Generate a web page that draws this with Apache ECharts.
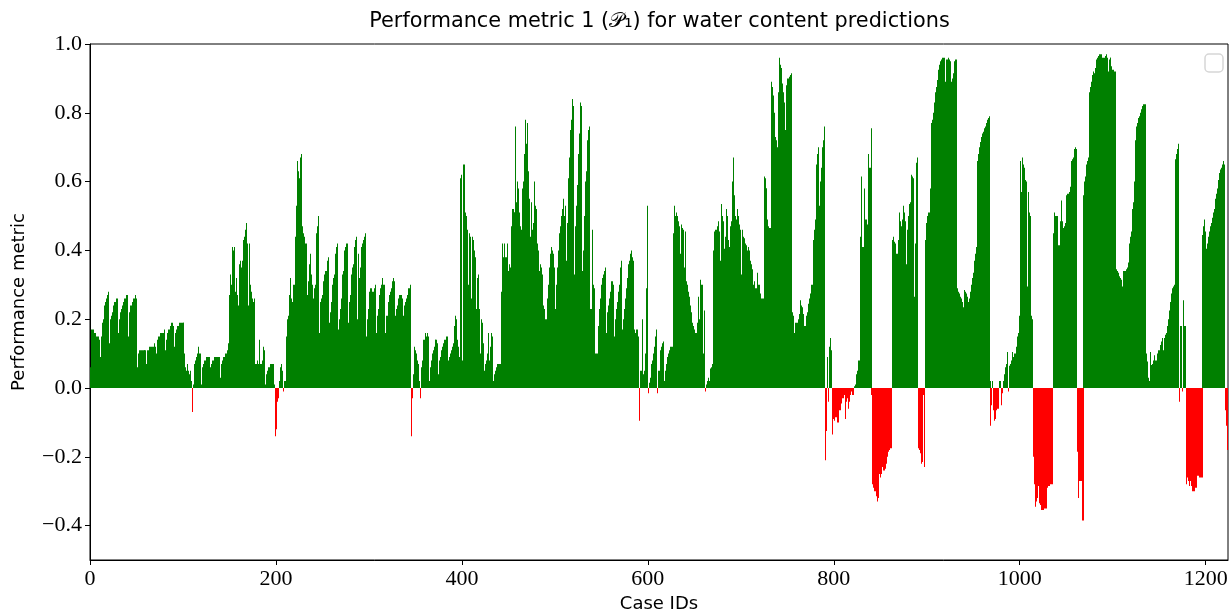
<!DOCTYPE html>
<html>
<head>
<meta charset="utf-8">
<title>Performance metric 1</title>
<script src="https://cdn.jsdelivr.net/npm/echarts@6/dist/echarts.min.js"></script>
<style>
  html, body { margin: 0; padding: 0; background: #ffffff; }
  #chart { width: 1231px; height: 613px; }
</style>
</head>
<body>
<div id="chart"></div>
<script>
// Performance metric per case, stored in blocks of consecutive case IDs.
const blockStarts = [0, 102, 204, 306, 408, 510, 612, 714, 816, 918, 1020, 1122];

const cases0 = [0.06,0.12,0.17,0.17,0.17,0.16,0.16,0.15,0.15,0.15,0.14,0.09,0.15,
  0.19,0.2,0.22,0.24,0.25,0.26,0.27,0.28,0.13,
  0.2,0.21,0.22,0.24,0.25,0.25,0.26,0.26,0.25,0.16,
  0.2,0.22,0.23,0.24,0.25,0.26,0.26,0.27,0.27,0.15,
  0.22,0.23,0.24,0.24,0.25,0.26,0.26,0.27,0.26,0.06,
  0.1,0.11,0.11,0.11,0.11,0.11,0.11,0.11,0.11,0.07,
  0.11,0.11,0.12,0.12,0.12,0.12,0.12,0.13,0.12,0.1,
  0.13,0.14,0.15,0.15,0.16,0.16,0.16,0.16,0.17,0.11,
  0.14,0.16,0.17,0.17,0.17,0.18,0.19,0.19,0.18,0.12,
  0.16,0.17,0.18,0.18,0.19,0.19,0.19,0.19,0.19,0.19];

const cases102 = [0.1,0.06,0.05,0.07,0.05,0.04,0.05,0.02,-0.07,0.01,
  0.07,0.08,0.09,0.09,0.1,0.12,0.1,0.1,0.01,
  0.06,0.07,0.08,0.08,0.09,0.09,0.09,0.09,0.02,
  0.06,0.07,0.08,0.08,0.09,0.09,0.09,0.09,0.09,0.09,0.03,
  0.07,0.08,0.08,0.09,0.09,0.1,0.1,0.11,0.13,
  0.27,0.33,0.3,0.41,0.4,0.41,0.28,0.27,0.32,0.27,
  0.24,0.36,0.37,0.35,0.37,0.43,0.44,0.46,0.48,0.42,
  0.24,0.42,0.33,0.3,0.28,0.26,0.25,0.26,0.07,0.07,
  0.08,0.07,0.14,0.07,0.07,0.08,0.08,0.12,0.11,0.01,
  0.04,0.05,0.06,0.06,0.07,0.07,0.07,0.07,0.01,-0.14,
  -0.12,-0.08,-0.04,-0.03];

const cases204 = [0.02,0.06,0.07,0.05,-0.01,0.02,0.02,0.15,0.2,0.21,
  0.26,0.27,0.32,0.26,0.25,0.3,0.3,0.44,0.53,0.66,
  0.63,0.61,0.67,0.68,0.47,0.46,0.45,0.44,0.42,0.42,
  0.27,0.31,0.36,0.39,0.33,0.3,0.26,0.29,0.3,0.31,
  0.45,0.47,0.5,0.16,0.25,0.26,0.27,0.31,0.33,0.34,
  0.34,0.37,0.38,0.15,0.19,0.22,0.25,0.3,0.32,0.33,
  0.39,0.41,0.42,0.17,0.2,0.23,0.26,0.31,0.33,0.34,
  0.4,0.41,0.42,0.42,0.19,0.25,0.27,0.33,0.35,0.36,
  0.41,0.42,0.43,0.44,0.2,0.39,0.32,0.35,0.41,0.42,
  0.43,0.44,0.45,0.15,0.2,0.23,0.23,0.28,0.29,0.29,
  0.28,0.28];

const cases306 = [0.29,0.3,0.16,0.21,0.23,0.27,0.29,0.3,0.31,0.32,
  0.3,0.3,0.16,0.21,0.21,0.25,0.27,0.28,0.29,0.31,
  0.32,0.31,0.17,0.21,0.23,0.24,0.26,0.27,0.27,0.27,
  0.26,0.21,0.24,0.25,0.26,0.27,0.28,0.29,0.29,0.3,
  -0.14,-0.03,0.04,0.12,0.11,0.1,0.08,0.07,0.02,-0.03,
  0.02,0.06,0.08,0.14,0.14,0.16,0.15,0.16,0.15,0.02,
  0.06,0.08,0.1,0.11,0.12,0.14,0.14,0.14,0.13,0.04,
  0.08,0.09,0.11,0.12,0.13,0.14,0.14,0.15,0.15,0.05,
  0.08,0.09,0.1,0.11,0.12,0.13,0.18,0.21,0.2,0.14,
  0.12,0.09,0.61,0.5,0.62,0.08,0.65,0.65,0.51,0.5,
  0.46,0.3];

const cases408 = [0.45,0.44,0.26,0.44,0.43,0.19,0.4,0.38,0.23,0.32,
  0.33,0.23,0.1,0.2,0.19,0.13,0.05,0.07,0.08,0.1,
  0.16,0.1,0.08,0.12,0.16,0.15,0.02,0.04,0.05,0.06,
  0.07,0.07,0.07,0.07,0.07,0.28,0.42,0.38,0.42,0.38,
  0.38,0.42,0.34,0.36,0.35,0.47,0.52,0.52,0.51,0.51,
  0.76,0.54,0.6,0.58,0.51,0.47,0.46,0.58,0.6,0.68,
  0.78,0.71,0.7,0.77,0.63,0.55,0.44,0.54,0.46,0.48,
  0.6,0.53,0.52,0.42,0.4,0.34,0.36,0.35,0.34,0.33,
  0.24,0.23,0.2,0.2,0.26,0.3,0.35,0.39,0.41,0.4,
  0.39,0.35,0.29,0.23,0.3,0.35,0.4,0.45,0.47,0.5,
  0.52,0.55];

const cases510 = [0.5,0.53,0.37,0.41,0.48,0.61,0.67,0.75,0.78,0.84,
  0.82,0.33,0.47,0.53,0.59,0.68,0.74,0.79,0.83,0.82,
  0.34,0.4,0.5,0.6,0.63,0.72,0.75,0.76,0.23,0.23,
  0.46,0.29,0.3,0.29,0.1,0.1,0.1,0.18,0.23,0.26,
  0.3,0.32,0.33,0.34,0.35,0.16,0.19,0.22,0.24,0.26,
  0.28,0.31,0.31,0.3,0.15,0.2,0.23,0.25,0.28,0.3,
  0.33,0.35,0.37,0.17,0.2,0.23,0.26,0.29,0.32,0.36,
  0.37,0.39,0.4,0.38,0.37,0.25,0.17,0.16,0.17,0.17,
  0.15,-0.095,0.05,0.05,0.2,0.04,0.05,0.1,0.29,0.11,
  0.53,-0.015,0.015,0.03,0.07,0.08,0.1,0.12,0.15,0.17,
  -0.015,0.05];

const cases612 = [0.05,0.08,0.11,0.12,0.13,0.135,0.02,0.05,0.07,0.09,
  0.1,0.11,0.12,0.12,0.12,0.125,0.45,0.53,0.5,0.51,
  0.5,0.485,0.47,0.39,0.475,0.465,0.46,0.35,0.455,0.3,
  0.31,0.3,0.28,0.265,0.24,0.22,0.19,0.18,0.17,0.16,
  0.16,0.19,0.265,0.2,0.135,0.315,0.3,0.3,0.1,0.225,
  -0.01,0.01,0.02,0.03,0.02,0.057,0.06,0.07,0.07,0.4,
  0.455,0.46,0.46,0.47,0.485,0.455,0.37,0.535,0.5,0.485,
  0.405,0.44,0.45,0.52,0.5,0.43,0.41,0.47,0.485,0.6,
  0.67,0.56,0.5,0.49,0.52,0.5,0.475,0.46,0.46,0.33,
  0.46,0.44,0.435,0.42,0.415,0.4,0.41,0.4,0.37,0.36,
  0.345,0.305];

const cases714 = [0.3,0.31,0.29,0.29,0.335,0.3,0.3,0.275,0.26,0.26,
  0.26,0.615,0.61,0.58,0.58,0.49,0.47,0.465,0.465,0.89,
  0.875,0.85,0.8,0.73,0.72,0.7,0.86,0.9,0.96,0.94,
  0.93,0.885,0.86,0.83,0.75,0.88,0.9,0.9,0.905,0.91,
  0.915,0.13,0.22,0.21,0.16,0.19,0.19,0.19,0.2,0.215,
  0.255,0.24,0.235,0.215,0.18,0.18,0.15,0.21,0.22,0.245,
  0.26,0.275,0.3,0.3,0.43,0.46,0.49,0.65,0.68,0.69,
  0.7,0.53,0.6,0.64,0.7,0.72,0.76,-0.21,-0.125,0.09,
  -0.04,0.12,0.145,0.11,-0.135,-0.085,-0.09,-0.095,-0.085,-0.085,
  -0.1,-0.1,-0.065,-0.065,-0.045,-0.03,-0.03,-0.02,-0.02,-0.09,
  -0.04,-0.03];

const cases816 = [-0.06,-0.04,-0.02,-0.01,-0.02,-0.02,0.005,0.01,0.04,0.05,
  0.06,0.08,0.08,0.44,0.615,0.41,0.41,0.58,0.49,0.49,
  0.475,0.68,0.64,0.64,-0.02,0.755,-0.28,-0.29,-0.3,-0.3,
  -0.315,-0.33,-0.32,-0.25,-0.26,-0.25,-0.23,-0.24,-0.24,-0.235,
  -0.22,-0.22,-0.2,-0.185,-0.18,-0.175,-0.175,0.43,0.44,0.425,
  0.42,0.39,0.39,0.425,0.43,0.51,0.485,0.47,0.49,0.53,
  0.51,0.485,0.36,0.46,0.5,0.535,0.54,0.545,0.62,0.615,
  0.61,0.265,0.42,0.655,0.67,-0.175,-0.18,-0.19,-0.22,-0.215,
  -0.02,-0.23,-0.23,0.43,0.48,0.5,0.51,0.51,0.58,0.77,
  0.78,0.8,0.83,0.86,0.875,0.895,0.91,0.925,0.94,0.95,
  0.955,0.96];

const cases918 = [0.96,0.96,0.89,0.955,0.955,0.96,0.955,0.95,0.755,0.89,
  0.9,0.915,0.95,0.955,0.955,0.29,0.28,0.275,0.265,0.26,
  0.25,0.235,0.21,0.285,0.28,0.275,0.265,0.25,0.26,0.28,
  0.3,0.32,0.335,0.37,0.39,0.41,0.64,0.66,0.68,0.7,
  0.715,0.73,0.74,0.745,0.755,0.76,0.77,0.78,0.785,0.79,
  -0.11,0.02,-0.05,0.02,-0.065,-0.095,-0.09,-0.065,-0.06,-0.06,
  0.02,0.02,-0.05,-0.015,0.02,0.03,0.04,0.06,0.07,0.105,
  -0.01,0.065,0.07,0.08,0.105,0.09,0.1,0.1,0.12,0.135,
  0.15,0.16,0.21,0.66,0.57,0.67,0.65,0.64,0.605,0.6,
  0.295,0.57,0.51,0.5,0.21,0.21,0.2,-0.2,-0.28,-0.345,
  -0.33,-0.32];

const cases1020 = [-0.285,-0.335,-0.34,-0.355,-0.355,-0.355,-0.355,-0.35,-0.35,-0.35,
  -0.29,-0.285,-0.285,-0.28,-0.28,-0.28,0.45,0.51,0.5,0.5,
  0.5,0.43,0.415,0.415,0.485,0.545,0.485,0.465,0.47,0.48,
  0.56,0.565,0.565,0.57,0.58,0.585,0.66,0.665,0.67,0.695,
  0.7,0.695,-0.185,-0.32,-0.27,-0.27,-0.27,-0.385,-0.385,0.56,
  0.6,0.615,0.65,0.66,0.67,0.86,0.875,0.89,0.91,0.92,
  0.915,0.93,0.945,0.955,0.96,0.965,0.97,0.97,0.97,0.96,
  0.96,0.96,0.965,0.97,0.96,0.92,0.955,0.96,0.96,0.935,
  0.925,0.925,0.92,0.92,0.345,0.34,0.335,0.325,0.32,0.315,
  0.295,0.34,0.34,0.34,0.34,0.345,0.35,0.365,0.42,0.44,
  0.455,0.52];

const cases1122 = [0.54,0.6,0.72,0.755,0.76,0.77,0.785,0.79,0.8,0.81,
  0.82,0.825,0.825,0.825,0.1,0.077,0.03,0.02,0.02,0.105,
  0.067,0.07,0.08,0.095,0.08,0.08,0.1,0.11,0.11,0.125,
  0.135,0.14,0.145,0.11,0.145,0.155,0.16,0.18,0.2,0.225,
  0.25,0.275,0.29,0.295,0.3,0.665,0.66,0.68,0.695,0.71,
  -0.04,0.18,0.18,-0.01,0.255,0.18,0.18,-0.28,-0.26,-0.27,
  -0.285,-0.255,-0.27,-0.285,-0.3,-0.3,-0.3,-0.29,-0.29,-0.255,
  -0.255,-0.26,-0.26,-0.26,-0.26,0.445,0.47,0.49,0.455,0.405,
  0.42,0.44,0.455,0.47,0.48,0.495,0.51,0.52,0.535,0.55,
  0.565,0.58,0.605,0.625,0.635,0.64,0.65,0.66,0.65,-0.065,
  -0.11,-0.18];

const blocks = [cases0, cases102, cases204, cases306, cases408, cases510,
  cases612, cases714, cases816, cases918, cases1020, cases1122];

// Axis ticks
const xTicks = [0, 200, 400, 600, 800, 1000, 1200];
const yTicks = [-0.4, -0.2, 0.0, 0.2, 0.4, 0.6, 0.8, 1.0];

// Case ID / metric pairs for the bars
const barData = [];
blocks.forEach(function (vals, b) {
  vals.forEach(function (v, j) {
    barData.push([blockStarts[b] + j, v]);
  });
});

const serifFont = '"Liberation Serif", "DejaVu Serif", serif';
const sansFont = '"DejaVu Sans", "Noto Sans", sans-serif';

// One bar per case, snapped to whole pixel columns so neighbouring bars tile cleanly.
function renderBar(params, api) {
  const x = api.value(0);
  const v = api.value(1);
  const base = api.coord([x - 0.45, 0]);
  const tip = api.coord([x + 0.45, v]);
  let left = Math.round(base[0]);
  let right = Math.round(tip[0]);
  if (right <= left) right = left + 1;
  const top = Math.min(base[1], tip[1]);
  const h = Math.abs(tip[1] - base[1]);
  return {
    type: 'rect',
    shape: { x: left, y: top, width: right - left, height: h },
    style: { fill: v >= 0 ? '#008000' : '#ff0000' }
  };
}

const chart = echarts.init(document.getElementById('chart'), null, { renderer: 'canvas' });

chart.setOption({
  animation: false,
  backgroundColor: '#ffffff',
  grid: {
    left: 90, right: 3, top: 44, bottom: 53,
    outerBoundsMode: 'none',
    containLabel: false,
    show: true, borderColor: '#000', borderWidth: 1, backgroundColor: 'transparent'
  },
  xAxis: {
    type: 'value',
    min: 0, max: 1224,
    name: 'Case IDs',
    nameLocation: 'middle',
    nameGap: 33,
    nameTextStyle: { fontFamily: sansFont, fontSize: 18, color: '#000' },
    axisLine: { show: true, onZero: false, lineStyle: { color: '#000', width: 1 } },
    axisTick: { show: true, inside: false, length: 5, customValues: xTicks, lineStyle: { color: '#000' } },
    axisLabel: {
      customValues: xTicks, margin: 8,
      fontFamily: serifFont, fontSize: 22, color: '#000',
      formatter: function (v) { return String(v); }
    },
    splitLine: { show: false }
  },
  yAxis: {
    type: 'value',
    min: -0.5, max: 1.0,
    name: 'Performance metric',
    nameLocation: 'middle',
    nameGap: 62,
    nameRotate: 90,
    nameTextStyle: { fontFamily: sansFont, fontSize: 18, color: '#000' },
    axisLine: { show: true, onZero: false, lineStyle: { color: '#000', width: 1 } },
    axisTick: { show: true, inside: false, length: 5, customValues: yTicks, lineStyle: { color: '#000' } },
    axisLabel: {
      customValues: yTicks,
      margin: 8,
      fontFamily: serifFont, fontSize: 22, color: '#000',
      formatter: function (v) { return v.toFixed(1).replace('-', '\u2212'); }
    },
    splitLine: { show: false }
  },
  graphic: [{
    // chart title, centred over the plotting area
    type: 'text',
    x: 659.5, y: 22,
    style: {
      text: 'Performance metric 1 (\u{1D4AB}\u2081) for water content predictions',
      fontFamily: sansFont, fontSize: 20.8, fill: '#000',
      align: 'center', verticalAlign: 'middle'
    },
    z: 100
  }, {
    // empty legend frame
    type: 'rect',
    shape: { x: 1205, y: 54, width: 18, height: 18, r: 4 },
    style: { fill: '#ffffff', stroke: '#d6d6d6', lineWidth: 1.5 },
    z: 100
  }],
  series: [{
    type: 'custom',
    data: barData,
    encode: { x: 0, y: 1 },
    renderItem: renderBar,
    clip: true
  }]
});
</script>
</body>
</html>
